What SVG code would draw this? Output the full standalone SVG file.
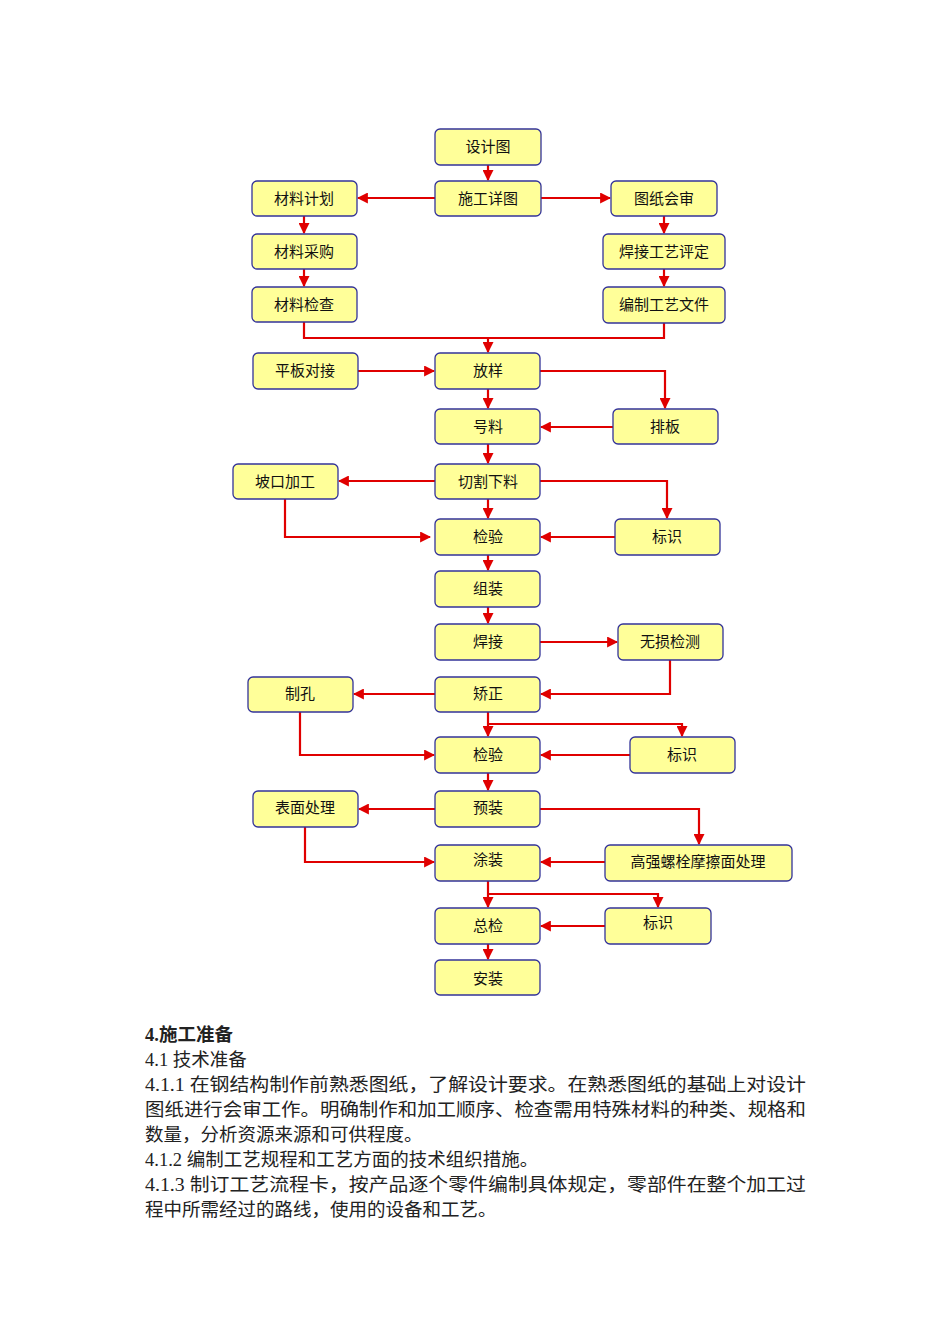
<svg xmlns="http://www.w3.org/2000/svg" width="950" height="1344" viewBox="0 0 950 1344">
<style>
.n rect{fill:#ffff99;stroke:#333399;stroke-width:1.3}
.n text{font-family:"Noto Sans CJK SC","Liberation Sans",sans-serif;font-size:15px;fill:#111;text-anchor:middle}
.c path{fill:none;stroke:#e00000;stroke-width:2.2}
.a path{marker-end:url(#ar)}
.t{font-family:"Liberation Serif","Noto Sans CJK SC",serif;font-size:18.5px;fill:#222}
</style>
<defs><marker id="ar" viewBox="0 0 10 10" refX="9" refY="5" markerWidth="5" markerHeight="5" orient="auto" markerUnits="strokeWidth"><path d="M0,0L10,5L0,10z" fill="#e00000" stroke="none"/></marker></defs>
<rect width="950" height="1344" fill="#fff"/>
<g class="c">
<path d="M304,322V338H664V323"/>
<path d="M285,499V537H430" marker-end="url(#ar)"/>
<g class="a">
<path d="M488,165V180"/>
<path d="M435,198H358"/>
<path d="M541,198H610"/>
<path d="M304,216V233"/>
<path d="M304,269V286"/>
<path d="M664,216V233"/>
<path d="M664,269V286"/>
<path d="M488,338V352"/>
<path d="M358,371H434"/>
<path d="M540,371H665V408"/>
<path d="M488,389V408"/>
<path d="M613,427H541"/>
<path d="M488,444V463"/>
<path d="M435,481H339"/>
<path d="M540,481H667V518"/>
<path d="M488,499V518"/>
<path d="M615,537H541"/>
<path d="M488,555V570"/>
<path d="M488,607V623"/>
<path d="M540,642H617"/>
<path d="M670,660V694H541"/>
<path d="M435,694H354"/>
<path d="M488,712V736"/>
<path d="M488,724H682V736"/>
<path d="M300,712V755H434"/>
<path d="M630,755H541"/>
<path d="M488,773V790"/>
<path d="M435,809H359"/>
<path d="M540,809H699V844"/>
<path d="M305,827V862H434"/>
<path d="M605,862H541"/>
<path d="M488,881V907"/>
<path d="M488,894H658V907"/>
<path d="M605,926H541"/>
<path d="M488,944V959"/>
</g>
</g>
<g id="n1" class="n"><rect x="435" y="129" width="106" height="36" rx="5"/><text x="488" y="152">设计图</text></g>
<g id="n2" class="n"><rect x="435" y="181" width="106" height="35" rx="5"/><text x="488" y="204">施工详图</text></g>
<g id="n3" class="n"><rect x="252" y="181" width="105" height="35" rx="5"/><text x="304" y="204">材料计划</text></g>
<g id="n4" class="n"><rect x="252" y="234" width="105" height="35" rx="5"/><text x="304" y="257">材料采购</text></g>
<g id="n5" class="n"><rect x="252" y="287" width="105" height="35" rx="5"/><text x="304" y="310">材料检查</text></g>
<g id="n6" class="n"><rect x="611" y="181" width="106" height="35" rx="5"/><text x="664" y="204">图纸会审</text></g>
<g id="n7" class="n"><rect x="603" y="234" width="122" height="35" rx="5"/><text x="664" y="257">焊接工艺评定</text></g>
<g id="n8" class="n"><rect x="603" y="287" width="122" height="36" rx="5"/><text x="664" y="310">编制工艺文件</text></g>
<g id="n9" class="n"><rect x="253" y="353" width="105" height="36" rx="5"/><text x="305" y="376">平板对接</text></g>
<g id="n10" class="n"><rect x="435" y="353" width="105" height="36" rx="5"/><text x="488" y="376">放样</text></g>
<g id="n11" class="n"><rect x="613" y="409" width="105" height="35" rx="5"/><text x="665" y="432">排板</text></g>
<g id="n12" class="n"><rect x="435" y="409" width="105" height="35" rx="5"/><text x="488" y="432">号料</text></g>
<g id="n13" class="n"><rect x="233" y="464" width="105" height="35" rx="5"/><text x="285" y="487">坡口加工</text></g>
<g id="n14" class="n"><rect x="435" y="464" width="105" height="35" rx="5"/><text x="488" y="487">切割下料</text></g>
<g id="n15" class="n"><rect x="435" y="519" width="105" height="36" rx="5"/><text x="488" y="542">检验</text></g>
<g id="n16" class="n"><rect x="615" y="519" width="105" height="36" rx="5"/><text x="667" y="542">标识</text></g>
<g id="n17" class="n"><rect x="435" y="571" width="105" height="36" rx="5"/><text x="488" y="594">组装</text></g>
<g id="n18" class="n"><rect x="435" y="624" width="105" height="36" rx="5"/><text x="488" y="647">焊接</text></g>
<g id="n19" class="n"><rect x="618" y="624" width="105" height="36" rx="5"/><text x="670" y="647">无损检测</text></g>
<g id="n20" class="n"><rect x="435" y="677" width="105" height="35" rx="5"/><text x="488" y="699">矫正</text></g>
<g id="n21" class="n"><rect x="248" y="677" width="105" height="35" rx="5"/><text x="300" y="699">制孔</text></g>
<g id="n22" class="n"><rect x="435" y="737" width="105" height="36" rx="5"/><text x="488" y="760">检验</text></g>
<g id="n23" class="n"><rect x="630" y="737" width="105" height="36" rx="5"/><text x="682" y="760">标识</text></g>
<g id="n24" class="n"><rect x="435" y="791" width="105" height="36" rx="5"/><text x="488" y="813">预装</text></g>
<g id="n25" class="n"><rect x="253" y="791" width="105" height="36" rx="5"/><text x="305" y="813">表面处理</text></g>
<g id="n26" class="n"><rect x="435" y="845" width="105" height="36" rx="5"/><text x="488" y="865">涂装</text></g>
<g id="n27" class="n"><rect x="605" y="845" width="187" height="36" rx="5"/><text x="698" y="867">高强螺栓摩擦面处理</text></g>
<g id="n28" class="n"><rect x="435" y="908" width="105" height="36" rx="5"/><text x="488" y="931">总检</text></g>
<g id="n29" class="n"><rect x="605" y="908" width="106" height="36" rx="5"/><text x="658" y="928">标识</text></g>
<g id="n30" class="n"><rect x="435" y="960" width="105" height="35" rx="5"/><text x="488" y="984">安装</text></g>
<g class="t">
<text x="145" y="1041" font-weight="bold">4.施工准备</text>
<text x="145" y="1066">4.1 技术准备</text>
<text x="145" y="1091" textLength="661" lengthAdjust="spacingAndGlyphs">4.1.1 在钢结构制作前熟悉图纸，了解设计要求。在熟悉图纸的基础上对设计</text>
<text x="145" y="1116" textLength="661" lengthAdjust="spacingAndGlyphs">图纸进行会审工作。明确制作和加工顺序、检查需用特殊材料的种类、规格和</text>
<text x="145" y="1141">数量，分析资源来源和可供程度。</text>
<text x="145" y="1166">4.1.2 编制工艺规程和工艺方面的技术组织措施。</text>
<text x="145" y="1191" textLength="661" lengthAdjust="spacingAndGlyphs">4.1.3 制订工艺流程卡，按产品逐个零件编制具体规定，零部件在整个加工过</text>
<text x="145" y="1216">程中所需经过的路线，使用的设备和工艺。</text>
</g>
</svg>
